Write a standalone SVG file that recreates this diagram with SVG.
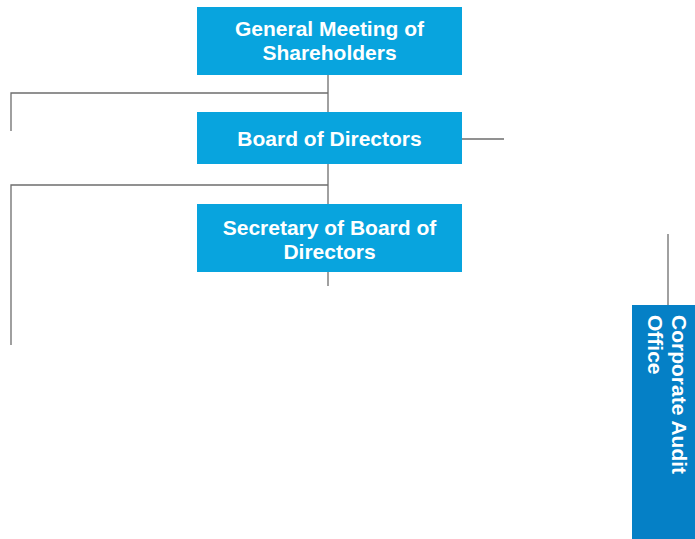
<svg xmlns="http://www.w3.org/2000/svg" width="695" height="539" viewBox="0 0 695 539">
  <style>
    .box { fill: #08A4DE; }
    .audit { fill: #0580C6; }
    .label { font-family: "Liberation Sans", Arial, sans-serif; font-weight: bold; font-size: 21px; fill: #ffffff; }
    .link { stroke: #6d6d6d; stroke-width: 1.3; fill: none; }
  </style>
  <rect width="695" height="539" fill="#ffffff"/>
  <g id="connectors">
    <path class="link" d="M328 75 V286"/>
    <path class="link" d="M328 93 H11 V131"/>
    <path class="link" d="M328 185 H11 V345"/>
    <path class="link" d="M462 139 H504"/>
    <path class="link" d="M668 234 V305"/>
  </g>
  <g id="general-meeting">
    <rect class="box" x="197" y="7" width="265" height="68"/>
    <text class="label" text-anchor="middle" x="329.5" y="36">General Meeting of</text>
    <text class="label" text-anchor="middle" x="329.5" y="60">Shareholders</text>
  </g>
  <g id="board">
    <rect class="box" x="197" y="112" width="265" height="52"/>
    <text class="label" text-anchor="middle" x="329.5" y="146">Board of Directors</text>
  </g>
  <g id="secretary">
    <rect class="box" x="197" y="204" width="265" height="68"/>
    <text class="label" text-anchor="middle" x="329.5" y="235">Secretary of Board of</text>
    <text class="label" text-anchor="middle" x="329.5" y="259">Directors</text>
  </g>
  <g id="audit-office">
    <rect class="audit" x="632" y="305" width="63" height="234"/>
    <text class="label" transform="translate(672 315) rotate(90)">
      <tspan x="0" y="0">Corporate Audit</tspan>
      <tspan x="0" y="24">Office</tspan>
    </text>
  </g>
</svg>
